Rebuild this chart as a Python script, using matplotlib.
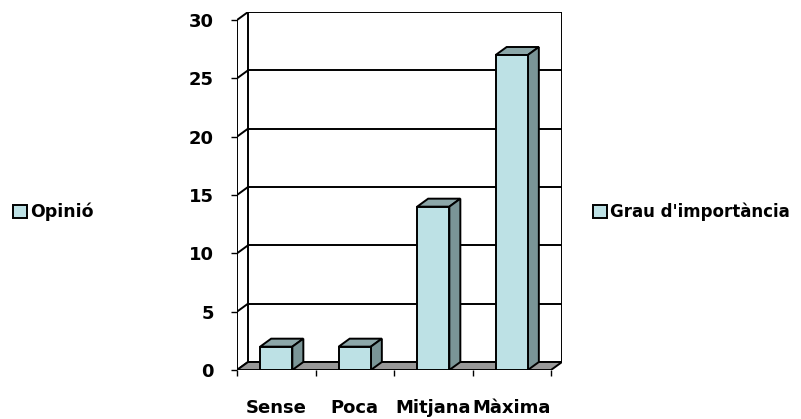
import matplotlib
matplotlib.use("Agg")
from matplotlib import pyplot as plt
from matplotlib.patches import Polygon, Patch

categories = ["Sense", "Poca", "Mitjana", "Màxima"]
values = [2, 2, 14, 27]
yticks = [0, 5, 10, 15, 20, 25, 30]
series_left = "Opinió"
series_right = "Grau d'importància"

face = "#bde1e5"
side = "#7a9597"
top = "#8ca7a9"
floor = "#999999"

W, H = 801, 419
fig = plt.figure(figsize=(W / 100, H / 100), dpi=100)

# pixel layout of the front plane / back wall
x0, x1 = 237, 562
y0, y1 = 370, 12
ax = fig.add_axes([x0 / W, 1 - y0 / H, (x1 - x0) / W, (y0 - y1) / H])

ymax = yticks[-1]
n = len(categories)
ddx = 11 / 78.5   # depth offset in category units
ddy = 8 / 11.67   # depth offset in value units
ax.set_xlim(-0.5, n - 0.5 + ddx)
ax.set_ylim(0, ymax + ddy)
for s in ax.spines.values():
    s.set_visible(False)

lw = 1.4
lc = "black"

# back wall gridlines + side wall diagonals
for v in yticks:
    ax.plot([-0.5 + ddx, n - 0.5 + ddx], [v + ddy, v + ddy], color=lc, lw=lw, zorder=1)
    ax.plot([-0.5, -0.5 + ddx], [v, v + ddy], color=lc, lw=lw, zorder=1)
ax.plot([-0.5 + ddx] * 2, [ddy, ymax + ddy], color=lc, lw=lw, zorder=1)
ax.plot([n - 0.5 + ddx] * 2, [ddy, ymax + ddy], color=lc, lw=lw, zorder=1)
ax.plot([-0.5, -0.5], [0, ymax], color=lc, lw=lw, zorder=1)

# floor
ax.add_patch(Polygon([(-0.5, 0), (n - 0.5, 0), (n - 0.5 + ddx, ddy), (-0.5 + ddx, ddy)],
                     closed=True, facecolor=floor, edgecolor=lc, lw=lw, zorder=2))

# bars
bw = 0.41
xs = list(range(n))
ax.bar(xs, values, width=bw, color=face, edgecolor=lc, lw=lw, zorder=4)
for x, v in zip(xs, values):
    l, r = x - bw / 2, x + bw / 2
    ax.add_patch(Polygon([(l, v), (l + ddx, v + ddy), (r + ddx, v + ddy), (r, v)],
                         closed=True, facecolor=top, edgecolor=lc, lw=lw, zorder=3))
    ax.add_patch(Polygon([(r, 0), (r + ddx, ddy), (r + ddx, v + ddy), (r, v)],
                         closed=True, facecolor=side, edgecolor=lc, lw=lw, zorder=3))

# ticks
ax.set_yticks(yticks)
ax.set_yticklabels([str(v) for v in yticks], fontsize=13, fontweight="bold")
ax.tick_params(axis="y", direction="out", length=4.5, width=1, pad=12)
ax.set_xticks([i - 0.5 for i in range(n + 1)])
ax.set_xticklabels([])
ax.set_xticks(xs, minor=True)
ax.set_xticklabels(categories, minor=True, fontsize=13, fontweight="bold")
ax.tick_params(axis="x", which="major", direction="out", length=4.5, width=1)
ax.tick_params(axis="x", which="minor", length=0, pad=21)

# legends
h = [Patch(facecolor=face, edgecolor=lc, lw=1.4)]
fig.legend(h, [series_left], loc="center left", bbox_to_anchor=(4 / W, 1 - 212 / H),
           frameon=False, handlelength=0.8, handleheight=0.8, handletextpad=0.2,
           borderpad=0, prop={"size": 12.5, "weight": "bold"})
fig.legend(h, [series_right], loc="center left", bbox_to_anchor=(585 / W, 1 - 212 / H),
           frameon=False, handlelength=0.8, handleheight=0.8, handletextpad=0.2,
           borderpad=0, prop={"size": 12, "weight": "bold"})

fig.savefig("out.png", dpi=100)
